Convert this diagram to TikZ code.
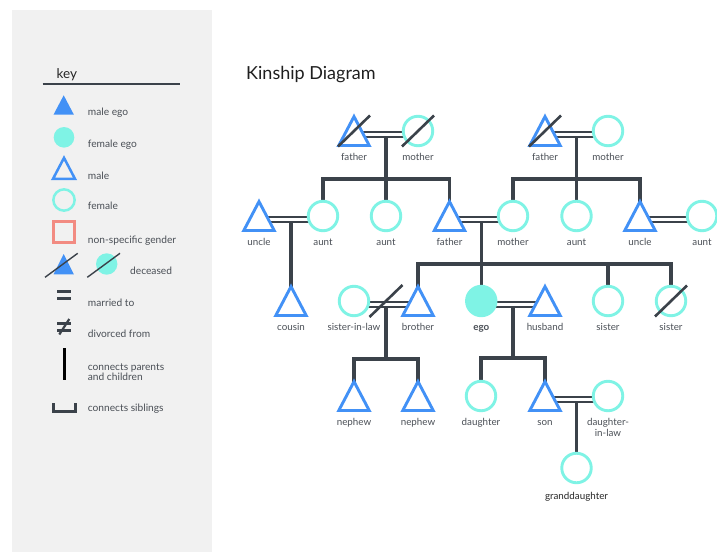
\documentclass[tikz,border=0pt]{standalone}
\usepackage{fontspec}
\setmainfont{Lato}
\usetikzlibrary{calc,backgrounds}
\definecolor{mblue}{HTML}{4291F6}
\definecolor{fteal}{HTML}{7FF3E5}
\definecolor{lnk}{HTML}{3B424A}
\definecolor{panel}{HTML}{F1F1F1}
\definecolor{nsred}{HTML}{F28B82}
\definecolor{txt}{HTML}{4A4F56}
\tikzset{
  female/.style={circle, draw=fteal, line width=2.9pt, fill=white, minimum size=29.5pt, inner sep=0pt},
  malebox/.style={rectangle, draw=none, minimum width=30pt, minimum height=28.5pt, inner sep=0pt},
  malestroke/.style={draw=mblue, line width=2.9pt, fill=white, line join=miter},
  link/.style={draw=lnk, line width=3.3pt, line join=miter},
  wedline/.style={draw=lnk, line width=2.5pt},
  dead/.style={draw=lnk, line width=2.6pt},
  lbl/.style={text=txt, font=\fontsize{9.8}{11}\selectfont, anchor=base, inner sep=0pt},
  keytxt/.style={text=txt, font=\fontsize{10.2}{11}\selectfont, anchor=base west, inner sep=0pt},
  glyph/.style={draw=lnk, line width=2.7pt},
}
\newcommand\tri[4]{%
  \node[malebox] (#1) at (#2,#3) {};
  \draw[malestroke] (#1.south west) -- (#1.north) -- (#1.south east) -- cycle;
  \node[lbl] (#1l) at ($(#1)+(0,29.5)$) {#4};
}
\newcommand\cir[4]{%
  \node[female] (#1) at (#2,#3) {};
  \node[lbl] (#1l) at ($(#1)+(0,29.5)$) {#4};
}
\newcommand\wed[2]{%
  \draw[wedline] ([shift={(6,1.2)}]#1.center) -- ([shift={(-6,1.2)}]#2.center);
  \draw[wedline] ([shift={(6,5.8)}]#1.center) -- ([shift={(-6,5.8)}]#2.center);
}
\newcommand\deadmark[1]{\draw[dead] ($(#1)+(-16,15.5)$) -- ($(#1)+(16,-15.5)$);}
\begin{document}
\begin{tikzpicture}[x=1pt,y=-1pt]
\useasboundingbox (0,0) rectangle (717,552);
% legend panel
\node[fill=panel, minimum width=200pt, minimum height=542pt, inner sep=0pt, anchor=north west] (panel) at (12,10) {};
\node[anchor=base west, inner sep=0pt, text=black!85, font=\fontsize{13.5}{15}\selectfont] (keyt) at (56.5,78.3) {key};
\draw[draw=lnk, line width=1.2pt] (42.7,84) -- (180,84);
% male ego
\node[rectangle, minimum width=20pt, minimum height=19pt, inner sep=0pt] (kME) at (63.7,105) {};
\fill[mblue] (kME.south west) -- (kME.north) -- (kME.south east) -- cycle;
\node[keytxt] (kMEt) at (87.7,115.5) {male ego};
% female ego
\node[circle, fill=fteal, minimum size=20.6pt, inner sep=0pt] (kFE) at (64,137.3) {};
\node[keytxt] (kFEt) at (87.7,147.5) {female ego};
% male
\node[rectangle, minimum width=21.5pt, minimum height=20.5pt, inner sep=0pt] (kM) at (64,168.3) {};
\draw[draw=mblue, line width=2.5pt, line join=miter] (kM.south west) -- (kM.north) -- (kM.south east) -- cycle;
\node[keytxt] (kMt) at (87.7,179.2) {male};
% female
\node[circle, draw=fteal, line width=2.5pt, minimum size=21.3pt, inner sep=0pt] (kF) at (64,200) {};
\node[keytxt] (kFt) at (87.7,209.9) {female};
% non specific
\node[rectangle, draw=nsred, line width=2.5pt, minimum size=20.8pt, inner sep=0pt] (kN) at (64,232) {};
\node[keytxt] (kNt) at (87.7,243.2) {non-specific gender};
% deceased
\node[rectangle, minimum width=20pt, minimum height=20pt, inner sep=0pt] (kD1) at (63.7,264.2) {};
\fill[mblue] (kD1.south west) -- (kD1.north) -- (kD1.south east) -- cycle;
\draw[draw=lnk, line width=1.4pt] (45,277.3) -- (77.7,253.3);
\node[circle, fill=fteal, minimum size=21.4pt, inner sep=0pt] (kD2) at (106.7,264) {};
\draw[draw=lnk, line width=1.4pt] (87.3,277.3) -- (120,253.3);
\node[keytxt] (kDt) at (130,274.2) {deceased};
% married
\draw[glyph] (57.3,291.7) -- (71.3,291.7);
\draw[glyph] (57.3,298.3) -- (71.3,298.3);
\node[keytxt] (kMat) at (87.7,306) {married to};
% divorced
\draw[glyph] (57.3,323.3) -- (71.3,323.3);
\draw[glyph] (57.3,330.3) -- (71.3,330.3);
\draw[draw=lnk, line width=2.2pt] (59.3,334.5) -- (69.3,319);
\node[keytxt] (kDit) at (87.7,337.5) {divorced from};
% parents-children
\draw[draw=black, line width=3pt] (64,348.3) -- (64,380);
\node[keytxt] (kPt) at (87.7,370) {connects parents};
\node[keytxt] (kPt2) at (87.7,380.6) {and children};
% siblings
\draw[glyph, line width=3pt, line join=miter] (53.5,403) -- (53.5,411.2) -- (75,411.2) -- (75,403);
\node[keytxt] (kSt) at (87.7,411.5) {connects siblings};
% title
\node[anchor=base west, inner sep=0pt, text=black!88, font=\fontsize{18}{20}\selectfont] (title) at (246,79) {Kinship Diagram};

% people
\tri{F1}{354}{131}{father}
\cir{M1}{418}{131}{mother}
\tri{F2}{545}{131}{father}
\cir{M2}{608}{131}{mother}
\tri{UL}{259}{216}{uncle}
\cir{AL1}{323}{216}{aunt}
\cir{AL2}{386}{216}{aunt}
\tri{FA}{449.5}{216}{father}
\cir{MO}{513}{216}{mother}
\cir{AR1}{576.5}{216}{aunt}
\tri{UR}{640}{216}{uncle}
\cir{AR2}{702}{216}{aunt}
\tri{CO}{291}{301}{cousin}
\cir{SIL}{354}{301}{sister-in-law}
\tri{BR}{418}{301}{brother}
\node[circle, fill=fteal, draw=fteal, line width=2.9pt, minimum size=29.5pt, inner sep=0pt] (EGO) at (481.25,301) {};
\node[lbl, font=\fontsize{9.8}{11}\selectfont\bfseries] (EGOl) at ($(EGO)+(0,29.5)$) {ego};
\tri{HU}{545}{301}{husband}
\cir{SI1}{608}{301}{sister}
\cir{SI2}{671}{301}{sister}
\tri{NE1}{354}{396}{nephew}
\tri{NE2}{418}{396}{nephew}
\cir{DA}{481}{396}{daughter}
\tri{SO}{545}{396}{son}
\cir{DIL}{608}{396}{daughter-}
\node[lbl] (DILl2) at ($(DIL)+(0,40.5)$) {in-law};
\cir{GD}{576.5}{468}{}
\node[lbl, text=black!85] (GDl) at ($(GD)+(0,31)$) {granddaughter};

% deceased slashes
\deadmark{F1}
\deadmark{M1}
\deadmark{F2}
\deadmark{SI2}

\begin{pgfonlayer}{background}
  % marriages
  \wed{F1}{M1}
  \wed{F2}{M2}
  \wed{UL}{AL1}
  \wed{FA}{MO}
  \wed{UR}{AR2}
  \wed{SIL}{BR}
  \wed{EGO}{HU}
  \wed{SO}{DIL}
  \coordinate (m1) at ($(F1)!0.5!(M1)$);
  \coordinate (b1) at ($(m1)+(0,48)$);
  \draw[link] ($(m1)+(0,5.8)$) -- (b1);
  \draw[link] (AL1.north) |- (b1) -| (FA.north);
  \draw[link] (b1) -- (AL2.north);
  \coordinate (m2) at ($(F2)!0.5!(M2)$);
  \coordinate (b2) at ($(m2)+(0,48)$);
  \draw[link] ($(m2)+(0,5.8)$) -- (b2);
  \draw[link] (MO.north) |- (b2) -| (UR.north);
  \draw[link] (b2) -- (AR1.north);
  \coordinate (m3) at ($(FA)!0.5!(MO)$);
  \coordinate (b3) at ($(m3)+(0,48)$);
  \draw[link] ($(m3)+(0,5.8)$) -- (EGO.north);
  \draw[link] (BR.north) |- (b3) -| (SI2.north);
  \draw[link] (b3) -| (SI1.north);
  \coordinate (m4) at ($(UL)!0.5!(AL1)$);
  \draw[link] ($(m4)+(0,5.8)$) -- (CO.north);
  \coordinate (m5) at ($(SIL)!0.5!(BR)$);
  \coordinate (b5) at ($(m5)+(0,58)$);
  \draw[link] ($(m5)+(0,5.8)$) -- (b5);
  \draw[link] (NE1.north) |- (b5) -| (NE2.north);
  \coordinate (m6) at ($(EGO)!0.5!(HU)$);
  \coordinate (b6) at ($(m6)+(0,57)$);
  \draw[link] ($(m6)+(0,5.8)$) -- (b6);
  \draw[link] (DA.north) |- (b6) -| (SO.north);
  \coordinate (m7) at ($(SO)!0.5!(DIL)$);
  \draw[link] ($(m7)+(0,5.8)$) -- (GD.north);
\end{pgfonlayer}
% divorce slash
\draw[dead] ($(m5)+(-16.5,16)$) -- ($(m5)+(16.5,-16)$);
\end{tikzpicture}
\end{document}
